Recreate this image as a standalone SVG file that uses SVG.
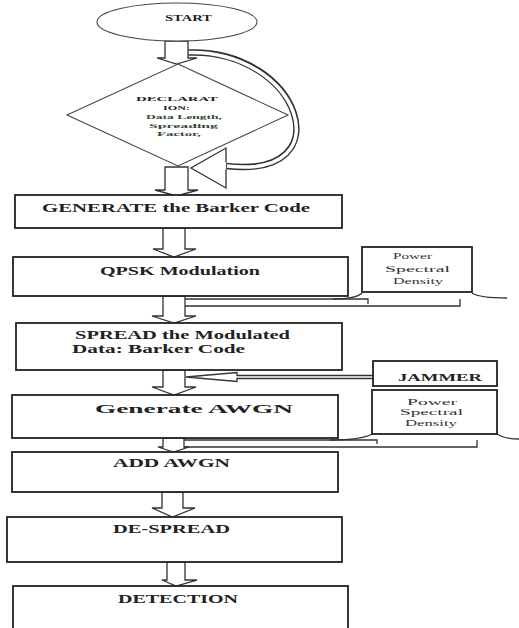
<svg xmlns="http://www.w3.org/2000/svg" width="519" height="628" viewBox="0 0 519 628">
<style>
.box{fill:#fff;stroke:#222;stroke-width:1.8}
.thin{fill:#fff;stroke:#444;stroke-width:1.1}
.arr{fill:#fff;stroke:#333;stroke-width:1.3;stroke-linejoin:miter}
.ln{fill:none;stroke:#333;stroke-width:1.3}
.t{font-family:"Liberation Serif","Times New Roman",serif;font-weight:bold;fill:#222}
.g{font-family:"Liberation Serif","Times New Roman",serif;font-weight:bold;fill:#2f4a2f}
.s{font-family:"Liberation Serif","Times New Roman",serif;fill:#333}
</style>
<rect width="519" height="628" fill="#fff"/>
<g id="connectors">
  <path d="M188,52.5 C300,48 345,180 226,166" fill="none" stroke="#333" stroke-width="6.5"/>
  <path d="M186,52.5 C300,48 345,180 227,166" fill="none" stroke="#fff" stroke-width="3.5"/>
  <path class="arr" d="M226,162.5 V148 L191,168 L226,188 V169.5"/>
  <path class="arr" d="M165,41 H188 V58 H197 L176.5,64 L157,58 H165 Z"/>
  <path class="arr" d="M165,167 H188 V190 H198 L176.5,196 L155,190 H165 Z"/>
  <path class="arr" d="M163,228 H185 V249 H196 L174,257 L153,249 H163 Z"/>
  <path class="arr" d="M163,296 H185 V316 H196 L174,323 L152,316 H163 Z"/>
  <path class="arr" d="M163,370 H185 V387 H196 L174,395 L152,387 H163 Z"/>
  <path class="arr" d="M163,438 H184 V447 H189 L173.5,452 L158,447 H163 Z"/>
  <path class="arr" d="M162,492 H183 V508 H195 L172.5,517 L152,508 H162 Z"/>
  <path class="arr" d="M167,562 H185 V580 H197 L176,586 L162,580 H167 Z"/>
  <path class="ln" d="M185,299 H368 V304"/>
  <path class="ln" d="M185,306 H460 V299"/>
  <path class="ln" d="M333,299 C350,299 358,297 362,293"/>
  <path class="ln" d="M472,293 C478,297 490,298 507,298"/>
  <path class="arr" d="M373,375.5 H237 V372.5 L186,377 L237,381.5 V378.5 H373"/>
  <path class="ln" d="M184,440 H377 V444"/>
  <path class="ln" d="M184,447 H477 V440"/>
  <path class="ln" d="M330,440 C350,440 365,438 372,434"/>
  <path class="ln" d="M497,434 C503,438 510,439 519,439"/>
</g>
<g id="start">
  <ellipse class="thin" cx="177" cy="22" rx="80" ry="19"/>
  <text class="t" x="165" y="21" font-size="8" textLength="47" lengthAdjust="spacingAndGlyphs">START</text>
</g>
<g id="declaration">
  <polygon class="thin" points="178,64 288,115 178,166 67,115"/>
  <text class="t" x="136" y="101" font-size="7" textLength="82" lengthAdjust="spacingAndGlyphs">DECLARAT</text>
  <text class="t" x="163" y="109.5" font-size="7" textLength="27" lengthAdjust="spacingAndGlyphs">ION:</text>
  <text class="g" x="146" y="119" font-size="7" textLength="76" lengthAdjust="spacingAndGlyphs">Data Length,</text>
  <text class="g" x="149" y="127.5" font-size="7" textLength="69" lengthAdjust="spacingAndGlyphs">Spreading</text>
  <text class="g" x="157" y="136" font-size="7" textLength="44" lengthAdjust="spacingAndGlyphs">Factor,</text>
</g>
<g id="generate">
  <rect class="box" x="15" y="195" width="327" height="33"/>
  <text class="t" x="42" y="212" font-size="13.5" textLength="268" lengthAdjust="spacingAndGlyphs">GENERATE the Barker Code</text>
</g>
<g id="qpsk">
  <rect class="box" x="13" y="257" width="335" height="39"/>
  <text class="t" x="100" y="275" font-size="13.5" textLength="160" lengthAdjust="spacingAndGlyphs">QPSK Modulation</text>
</g>
<g id="psd1">
  <rect class="box" x="362" y="247" width="110" height="45"/>
  <text class="s" x="393" y="259" font-size="8.5" textLength="39" lengthAdjust="spacingAndGlyphs">Power</text>
  <text class="s" x="385" y="272" font-size="8.5" textLength="65" lengthAdjust="spacingAndGlyphs">Spectral</text>
  <text class="s" x="393" y="284" font-size="8.5" textLength="50" lengthAdjust="spacingAndGlyphs">Density</text>
</g>
<g id="spread">
  <rect class="box" x="16" y="323" width="326" height="47"/>
  <text class="t" x="75" y="339" font-size="13.5" textLength="215" lengthAdjust="spacingAndGlyphs">SPREAD the Modulated</text>
  <text class="t" x="72" y="353" font-size="13.5" textLength="173" lengthAdjust="spacingAndGlyphs">Data: Barker Code</text>
</g>
<g id="jammer">
  <rect class="box" x="373" y="361" width="124" height="25"/>
  <text class="t" x="398" y="381" font-size="10" textLength="84" lengthAdjust="spacingAndGlyphs">JAMMER</text>
</g>
<g id="generate-awgn">
  <rect class="box" x="12" y="395" width="326" height="43"/>
  <text class="t" x="95" y="413" font-size="13.5" textLength="198" lengthAdjust="spacingAndGlyphs">Generate AWGN</text>
</g>
<g id="psd2">
  <rect class="box" x="372" y="390" width="125" height="44"/>
  <text class="s" x="407" y="405" font-size="8.5" textLength="50" lengthAdjust="spacingAndGlyphs">Power</text>
  <text class="s" x="400" y="415" font-size="8.5" textLength="63" lengthAdjust="spacingAndGlyphs">Spectral</text>
  <text class="s" x="405" y="426" font-size="8.5" textLength="52" lengthAdjust="spacingAndGlyphs">Density</text>
</g>
<g id="add-awgn">
  <rect class="box" x="12" y="452" width="326" height="40"/>
  <text class="t" x="113" y="467" font-size="13.5" textLength="117" lengthAdjust="spacingAndGlyphs">ADD AWGN</text>
</g>
<g id="despread">
  <rect class="box" x="7" y="517" width="335" height="45"/>
  <text class="t" x="113" y="533" font-size="13.5" textLength="117" lengthAdjust="spacingAndGlyphs">DE-SPREAD</text>
</g>
<g id="detection">
  <rect class="box" x="13" y="586" width="335" height="60"/>
  <text class="t" x="118" y="603" font-size="13.5" textLength="120" lengthAdjust="spacingAndGlyphs">DETECTION</text>
</g>
</svg>
